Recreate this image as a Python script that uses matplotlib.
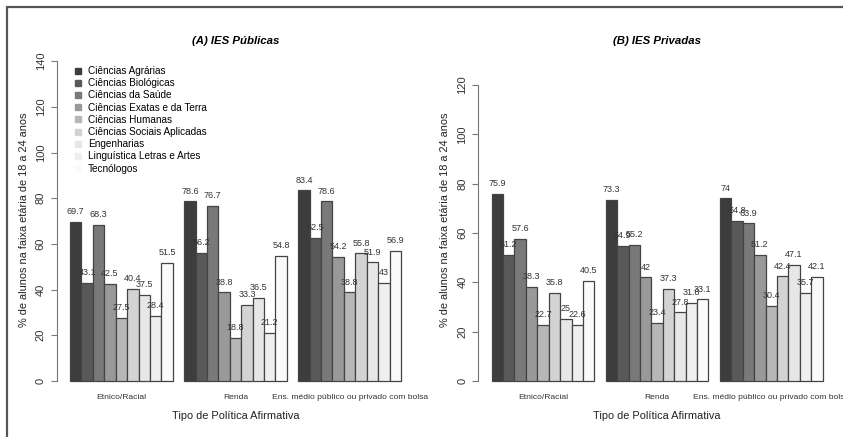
import numpy as np
import matplotlib
matplotlib.use("Agg")
import matplotlib.pyplot as plt
from matplotlib.lines import Line2D
from matplotlib.patches import Rectangle

plt.rcParams['font.family'] = ['Liberation Sans', 'DejaVu Sans']

# dados
areas = ['Ciências Agrárias', 'Ciências Biológicas', 'Ciências da Saúde',
         'Ciências Exatas e da Terra', 'Ciências Humanas',
         'Ciências Sociais Aplicadas', 'Engenharias',
         'Linguística Letras e Artes', 'Tecnólogos']
politicas = ['Etnico/Racial', 'Renda', 'Ens. médio público ou privado com bolsa']

publicas_etnico = [69.7, 43.1, 68.3, 42.5, 27.5, 40.4, 37.5, 28.4, 51.5]
publicas_renda = [78.6, 56.2, 76.7, 38.8, 18.8, 33.3, 36.5, 21.2, 54.8]
publicas_ens = [83.4, 62.5, 78.6, 54.2, 38.8, 55.8, 51.9, 43, 56.9]

privadas_etnico = [75.9, 51.2, 57.6, 38.3, 22.7, 35.8, 25, 22.6, 40.5]
privadas_renda = [73.3, 54.9, 55.2, 42, 23.4, 37.3, 27.8, 31.8, 33.1]
privadas_ens = [74, 64.8, 63.9, 51.2, 30.4, 42.4, 47.1, 35.7, 42.1]

cores = ['#3d3d3d', '#595959', '#797979', '#999999', '#b7b7b7',
         '#d3d3d3', '#e7e7e7', '#efefef', '#fafafa']

W, H = 843, 437
fig = plt.figure(figsize=(W / 100, H / 100), dpi=100)

# moldura (cortada à direita e embaixo)
fig.patches.append(Rectangle((7 / W, -0.1), 1.2, (H - 7) / H + 0.1,
                             transform=fig.transFigure, fill=False,
                             edgecolor='#555555', lw=1.6))


def px_axes(left, top, right, bottom):
    return fig.add_axes([left / W, (H - bottom) / H, (right - left) / W, (bottom - top) / H])


def painel(ax, grupos, titulo, ytop, ymax, ppu, legenda=False):
    n = len(cores)
    for g, vals in enumerate(grupos):
        x0 = 1 + g * (n + 1)
        xs = x0 + np.arange(n) + 0.5
        ax.bar(xs, vals, width=1.0, color=cores, edgecolor='#444444', lw=0.9)
        for x, v in zip(xs, vals):
            ax.annotate(f'{v:g}', (x, v), xytext=(0, 4.2), textcoords='offset points',
                        ha='center', va='bottom', fontsize=6.5, color='#333333')
        ax.text(x0 + n / 2, -16.5 / ppu, politicas[g], ha='center', va='center',
                fontsize=6.1, color='#333333', clip_on=False)
    ax.set_xlim(-0.16, 31.16)
    ax.set_ylim(-9 / ppu, (381 - ytop) / ppu)
    for s in ['top', 'right', 'bottom']:
        ax.spines[s].set_visible(False)
    ax.spines['left'].set_bounds(0, ymax)
    ax.spines['left'].set_color('#777777')
    ax.set_xticks([])
    ax.set_yticks(np.arange(0, ymax + 1, 20))
    ax.tick_params(axis='y', length=4, width=0.8, color='#777777', pad=4,
                   labelsize=8, labelcolor='#333333')
    for lab in ax.get_yticklabels():
        lab.set_rotation(90)
        lab.set_va('center')
    ax.set_ylabel('% de alunos na faixa etária de 18 a 24 anos', fontsize=7.9,
                  color='#222222', labelpad=5)
    ax.text(15.5, (381 - 41) / ppu, titulo, ha='center', va='center', fontsize=8.2,
            fontweight='bold', fontstyle='italic', clip_on=False)
    ax.text(15.5, -35 / ppu, 'Tipo de Política Afirmativa', ha='center', va='center',
            fontsize=7.9, color='#222222', clip_on=False)
    if legenda:
        hs = [Line2D([], [], marker='s', ls='', color=c, markersize=4.2) for c in cores]
        ax.legend(hs, areas, loc='upper left', bbox_to_anchor=(0.02, 1.0), frameon=False,
                  fontsize=7.2, handlelength=0.8, handletextpad=0.6, labelspacing=0.22,
                  borderaxespad=0.0, borderpad=0.0)


axA = px_axes(56.8, 50, 414.2, 390)
painel(axA, [publicas_etnico, publicas_renda, publicas_ens], '(A) IES Públicas',
       50, 140, 2.285, legenda=True)
leg = axA.get_legend()
leg.set_bbox_to_anchor((74 / W, (H - 66) / H), transform=fig.transFigure)

axB = px_axes(478.4, 50, 835.8, 390)
painel(axB, [privadas_etnico, privadas_renda, privadas_ens], '(B) IES Privadas',
       50, 120, 2.467)

fig.savefig('out.png', dpi=100)
